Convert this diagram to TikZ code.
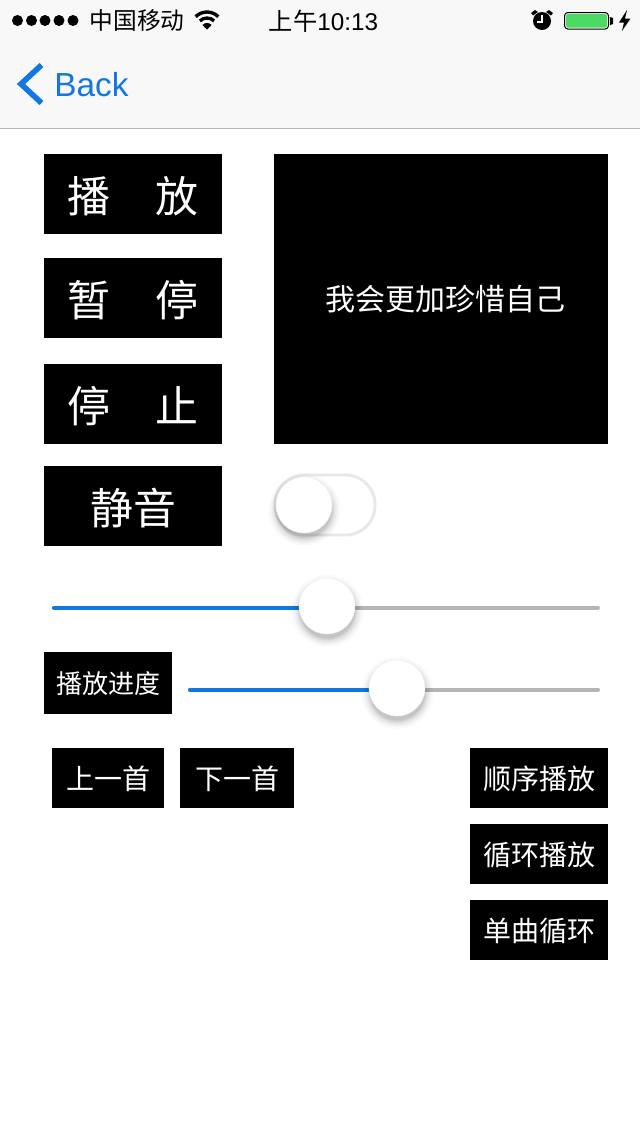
\documentclass[tikz,border=0pt]{standalone}
\usepackage{fontspec}
\setmainfont{Noto Sans CJK SC}
\newfontfamily\latinfont{Liberation Sans}
\usetikzlibrary{arrows,positioning,calc,shapes}

\definecolor{barbg}{HTML}{F8F8F8}
\definecolor{barline}{HTML}{B4B4B4}
\definecolor{tint}{HTML}{1277E1}
\definecolor{trackgray}{HTML}{B5B5B5}
\definecolor{switchline}{HTML}{E8E8E8}
\definecolor{charge}{HTML}{4CD964}

% slider / switch knob with a soft shadow, #1 = name, #2 = centre
\newcommand{\knobat}[2]{
  \foreach \r in {27,27.5,28,28.5,29,29.5,30,31,32,33,34,36}
    \fill[black,opacity=0.02] ($#2+(0.5,5)$) circle (\r);
  \node[knob] (#1) at #2 {};
}

\begin{document}
\begin{tikzpicture}[x=0.75pt,y=-0.75pt,node distance=78pt]
  \tikzstyle{bigbtn}=[fill=black,text=white,inner sep=0pt,minimum width=133.5pt,minimum height=60pt,text height=27pt,text depth=0pt,font=\fontsize{32.2}{33}\selectfont]
  \tikzstyle{smallbtn}=[fill=black,text=white,inner sep=0pt,minimum height=45pt,text height=16.5pt,text depth=0pt,font=\fontsize{21}{22}\selectfont]
  \tikzstyle{wide}=[smallbtn,minimum width=103.5pt]
  \tikzstyle{knob}=[circle,fill=white,draw=black!6,line width=0.4pt,inner sep=0pt,minimum size=42pt]
  \tikzstyle{track}=[line width=3pt,line cap=round]
  \tikzstyle{statustext}=[inner sep=0pt,font=\fontsize{17.8}{18}\selectfont]

  \useasboundingbox (0,0) rectangle (640,1136);
  \fill[white] (0,0) rectangle (640,1136);

  % navigation bar
  \fill[barbg] (0,0) rectangle (640,128);
  \draw[barline,line width=0.75pt] (0,128.5) -- (640,128.5);

  % status bar
  \foreach \x in {17.5,31.5,45,59,73}
    \fill[black] (\x,20.5) circle (5.5);
  \node[statustext] (carrier) at (137,21) {中国移动};
  \draw[line width=2.5pt] (207,28) ++(225:16) arc (225:315:16);
  \draw[line width=2.5pt] (207,28) ++(225:10) arc (225:315:10);
  \fill (207,29.5) -- ++(225:6.5) arc (225:315:6.5) -- cycle;
  \node[statustext,font=\fontsize{18.2}{19}\selectfont] (clock) at (323.5,21) {上午{\latinfont 10:13}};
  \fill (531,13) -- (535,10) -- (538,12) -- (533,15.5) -- cycle;
  \fill (553,13) -- (549,10) -- (546,12) -- (551,15.5) -- cycle;
  \fill (542,21) circle (9);
  \draw[white,line width=1.1pt] (542,15) -- (542,22) -- (537,22);
  \draw[black,line width=0.75pt,rounded corners=2.5pt] (564.5,12.5) rectangle (608.5,29);
  \fill[charge,rounded corners=1.5pt] (566,14) rectangle (607,27.5);
  \fill (610,17) -- (613,18) -- (613,24) -- (610,25) -- cycle;
  \fill (627,10) -- (619,22.5) -- (624,22.5) -- (622,31) -- (630.5,18.5) -- (625,18.5) -- cycle;

  \draw[tint,line width=4.2pt,line cap=butt,line join=miter] (41.5,65) -- (21,84) -- (41.5,103);
  \node[inner sep=0pt,text=tint,font=\latinfont\fontsize{25}{26}\selectfont] (back) at (91.5,85) {Back};

  % left column
  \node[bigbtn] (play)  at (133,194) {播\hspace{33.75pt}放};
  \node[bigbtn] (pause) [below of=play] {暂\hspace{33.75pt}停};
  \node[bigbtn] (halt)  [below of=pause,node distance=79.5pt] {停\hspace{33.75pt}止};
  \node[bigbtn] (mute)  [below of=halt,node distance=76.5pt] {静音};

  % lyric box
  \node[fill=black,inner sep=0pt,minimum width=250.5pt,minimum height=217.5pt] (lyric) at (441,299) {};
  \node[text=white,inner sep=0pt,font=\fontsize{22.5}{23}\selectfont] (lyrictext) at (445.5,299.5) {我会更加珍惜自己};

  % switch
  \node[draw=switchline,fill=white,line width=2.2pt,rounded corners=22pt,inner sep=0pt,minimum width=75pt,minimum height=45pt] (switch) at (325,505) {};
  \knobat{switchknob}{(304,505)}

  % volume slider
  \coordinate (volstart) at (54,607.5);
  \coordinate (volend) at (598,607.5);
  \draw[track,trackgray] (volstart) -- (volend);
  \draw[track,tint] (volstart) -- (327,607.5);
  \knobat{volknob}{(327,606)}

  % progress slider
  \node[smallbtn,minimum width=96pt,minimum height=46.5pt,text height=15.5pt,font=\fontsize{19.5}{20}\selectfont] (progress) at (108,683) {播放进度};
  \coordinate (prostart) at (190,689.5);
  \coordinate (proend) at (598,689.5);
  \draw[track,trackgray] (prostart) -- (proend);
  \draw[track,tint] (prostart) -- (397,689.5);
  \knobat{proknob}{(397,688)}

  % bottom buttons
  \node[smallbtn,minimum width=84pt] (prev) at (108,778) {上一首};
  \node[smallbtn,minimum width=85.5pt] (next) at (237,778) {下一首};
  \node[wide] (order) at (539,778) {顺序播放};
  \node[wide] (loop)  [below of=order,node distance=57pt] {循环播放};
  \node[wide] (single) [below of=loop,node distance=57pt] {单曲循环};
\end{tikzpicture}
\end{document}
